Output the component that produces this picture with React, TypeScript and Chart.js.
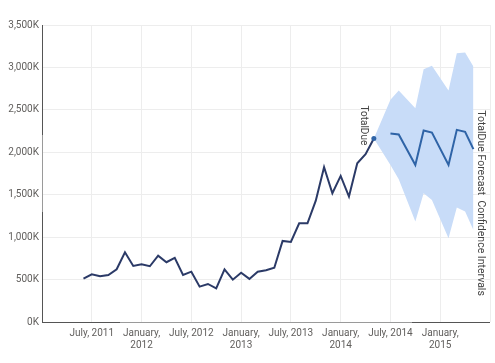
import React, { useEffect, useRef } from "react";
import { Chart, registerables } from "chart.js";

Chart.register(...registerables);

// month index: 0 = January 2011
const histMonths = [5, 6, 7, 8, 9, 10, 11, 12, 13, 14, 15, 16, 17, 18, 19, 20, 21, 22, 23, 24, 25, 26, 27, 28, 29, 30, 31, 32, 33, 34, 35, 36, 37, 38, 39, 40];
const histValues = [510, 562, 539, 554, 621, 822, 660, 680, 657, 782, 704, 755, 554, 593, 417, 448, 397, 621, 499, 581, 508, 593, 609, 640, 955, 943, 1164, 1164, 1430, 1824, 1518, 1722, 1478, 1871, 1978, 2162];

const fcMonths = [42, 43, 45, 46, 47, 49, 50, 51, 52];
const fcValues = [2220, 2209, 1851, 2256, 2233, 1851, 2264, 2241, 2037];

const bandMonths = [40, 42, 43, 45, 46, 47, 49, 50, 51, 52];
const bandUpper = [2162, 2618, 2728, 2520, 2980, 3019, 2728, 3168, 3176, 3011];
const bandLower = [2162, 1851, 1683, 1183, 1518, 1439, 987, 1348, 1301, 1085];

const tickMonths = [6, 12, 18, 24, 30, 36, 42, 48];
const tickLabels: (string | string[])[] = [
  "July, 2011",
  ["January,", "2012"],
  "July, 2012",
  ["January,", "2013"],
  "July, 2013",
  ["January,", "2014"],
  "July, 2014",
  ["January,", "2015"],
];

const histLabel = "TotalDue";
const fcLabel = "TotalDue Forecast  Confidence Intervals";

const FONT = "Roboto, 'Open Sans', sans-serif";

export default function App() {
  const ref = useRef<HTMLCanvasElement | null>(null);
  useEffect(() => {
    if (!ref.current) return;
    const pts = (xs: number[], ys: number[]) => xs.map((x, i) => ({ x, y: ys[i] }));

    const labelsPlugin = {
      id: "endLabels",
      afterDatasetsDraw(chart: any) {
        const { ctx, scales, chartArea } = chart;
        const xs = scales.x;
        const ys = scales.y;
        ctx.save();
        // axis line segments
        ctx.lineWidth = 1;
        ctx.strokeStyle = "#9a9a9a";
        ctx.beginPath();
        ctx.moveTo(chartArea.left + 0.5, chartArea.top);
        ctx.lineTo(chartArea.left + 0.5, chartArea.bottom);
        ctx.moveTo(chartArea.left, chartArea.bottom + 0.5);
        ctx.lineTo(chartArea.right, chartArea.bottom + 0.5);
        ctx.stroke();
        ctx.strokeStyle = "#555";
        ctx.beginPath();
        ctx.moveTo(chartArea.left + 0.5, chartArea.top);
        ctx.lineTo(chartArea.left + 0.5, chartArea.top + 110);
        ctx.moveTo(chartArea.left + 0.5, chartArea.top + 187);
        ctx.lineTo(chartArea.left + 0.5, chartArea.bottom + 1);
        ctx.moveTo(chartArea.left, chartArea.bottom + 0.5);
        ctx.lineTo(chartArea.left + 78, chartArea.bottom + 0.5);
        ctx.moveTo(chartArea.right - 78, chartArea.bottom + 0.5);
        ctx.lineTo(chartArea.right, chartArea.bottom + 0.5);
        ctx.stroke();

        ctx.fillStyle = "#444";
        ctx.textAlign = "left";
        ctx.textBaseline = "middle";
        ctx.font = `10px ${FONT}`;
        const hx = xs.getPixelForValue(histMonths[histMonths.length - 1]);
        const hy = ys.getPixelForValue(histValues[histValues.length - 1]);
        ctx.save();
        ctx.translate(hx - 10, hy - 33);
        ctx.rotate(Math.PI / 2);
        ctx.fillText(histLabel, 0, 0);
        ctx.restore();
        ctx.font = `10.5px ${FONT}`;
        const fx = xs.getPixelForValue(fcMonths[fcMonths.length - 1]);
        const fy = ys.getPixelForValue(fcValues[fcValues.length - 1]);
        ctx.save();
        ctx.translate(fx + 7, fy - 39);
        ctx.rotate(Math.PI / 2);
        ctx.fillText(fcLabel, 0, 0);
        ctx.restore();
        ctx.restore();
      },
    };

    const chart = new Chart(ref.current, {
      type: "line",
      data: {
        datasets: [
          {
            label: "TotalDue",
            data: pts(histMonths, histValues),
            borderColor: "#2b3a67",
            borderWidth: 2,
            pointRadius: histMonths.map((_, i) => (i === histMonths.length - 1 ? 2.5 : 0)),
            pointBackgroundColor: "#2f64a7",
            pointBorderWidth: 0,
            fill: false,
            order: 0,
          },
          {
            label: "TotalDue Forecast",
            data: pts(fcMonths, fcValues),
            borderColor: "#2f64a7",
            borderWidth: 2,
            pointRadius: 0,
            fill: false,
            order: 1,
          },
          {
            label: "Upper",
            data: pts(bandMonths, bandUpper),
            borderWidth: 0,
            borderColor: "rgba(0,0,0,0)",
            backgroundColor: "#c8dcf8",
            pointRadius: 0,
            fill: "+1",
            order: 2,
          },
          {
            label: "Lower",
            data: pts(bandMonths, bandLower),
            borderWidth: 0,
            borderColor: "rgba(0,0,0,0)",
            pointRadius: 0,
            fill: false,
            order: 3,
          },
        ],
      },
      options: {
        animation: false,
        responsive: false,
        maintainAspectRatio: false,
        layout: { padding: { top: 25, right: 4, left: 0, bottom: 0 } },
        plugins: { legend: { display: false }, tooltip: { enabled: false } },
        scales: {
          x: {
            type: "linear",
            min: 0,
            max: 54,
            afterBuildTicks(scale: any) {
              scale.ticks = [0, ...tickMonths, 54].map((v) => ({ value: v }));
            },
            afterFit(scale: any) {
              scale.height = 41;
            },
            grid: { color: "#ededed", drawTicks: false, lineWidth: 1 },
            border: { display: false },
            ticks: {
              autoSkip: false,
              maxRotation: 0,
              padding: 5,
              color: "#605e5c",
              font: { family: FONT, size: 10 },
              callback(value: any) {
                const i = tickMonths.indexOf(Number(value));
                return i >= 0 ? tickLabels[i] : "";
              },
            },
          },
          y: {
            min: 0,
            max: 3500,
            afterFit(scale: any) {
              scale.width = 42;
            },
            grid: { color: "#ededed", drawTicks: false, lineWidth: 1 },
            border: { display: false },
            ticks: {
              stepSize: 500,
              padding: 3,
              color: "#605e5c",
              font: { family: FONT, size: 10 },
              callback(value: any) {
                return Number(value).toLocaleString("en-US") + "K";
              },
            },
          },
        },
      },
      plugins: [labelsPlugin],
    } as any);
    return () => chart.destroy();
  }, []);

  return (
    <div style={{ position: "fixed", left: 0, top: 0, width: 495, height: 363, background: "#fff" }}>
      <canvas ref={ref} width={495} height={363} style={{ width: 495, height: 363 }} />
    </div>
  );
}
